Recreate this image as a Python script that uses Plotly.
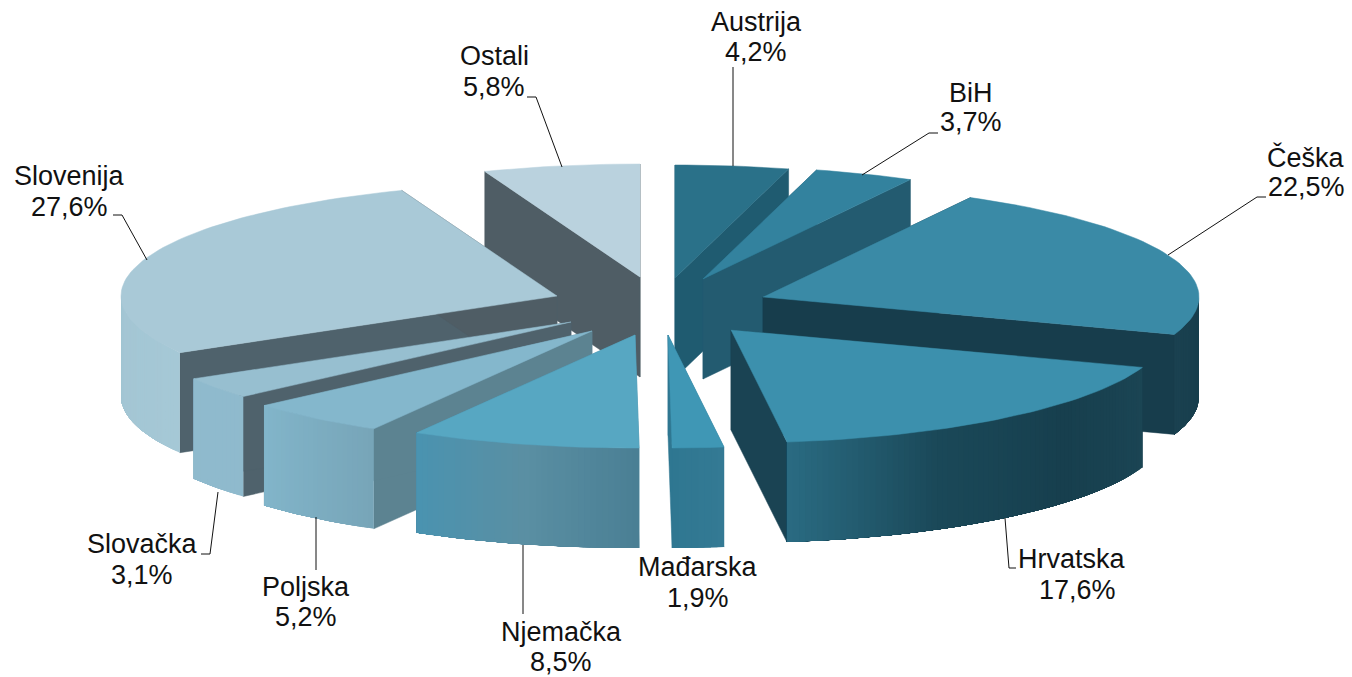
import math
import plotly.graph_objects as go

# ---- data ----
categories = ["Austrija", "BiH", "Češka", "Hrvatska", "Mađarska", "Njemačka",
              "Poljska", "Slovačka", "Slovenija", "Ostali"]
shares = [4.2, 3.7, 22.5, 17.6, 1.9, 8.5, 5.2, 3.1, 27.6, 5.8]

# ---- geometry / style (screen pixels) ----
RX, RY, DEPTH = 436, 113, 100
apex = {"Austrija": (675, 278), "BiH": (703, 279), "Češka": (763, 297), "Hrvatska": (731, 330),
        "Mađarska": (668, 335), "Njemačka": (635, 335), "Poljska": (592, 331),
        "Slovačka": (571, 322), "Slovenija": (557, 296), "Ostali": (640, 277)}
top_col = {"Austrija": "#2a7189", "BiH": "#33829e", "Češka": "#3a8aa6", "Hrvatska": "#3c90ad",
           "Mađarska": "#3f97b5", "Njemačka": "#57a7c2", "Poljska": "#84b7cc",
           "Slovačka": "#97bfd0", "Slovenija": "#a9c9d7", "Ostali": "#bad2de"}
cut_start_col = {"Austrija": "#1f5b70", "BiH": "#235b70", "Češka": "#173d4c", "Hrvatska": "#173d4c",
                 "Mađarska": "#2f7791", "Njemačka": "#4f8ba0", "Poljska": "#5c8391",
                 "Slovačka": "#4f626c", "Slovenija": "#4f626c", "Ostali": "#4f5d65"}
cut_end_col = {"Austrija": "#1f5b70", "BiH": "#235b70", "Češka": "#173d4c", "Hrvatska": "#1a4353",
               "Mađarska": "#2f7791", "Njemačka": "#4f8ba0", "Poljska": "#5c8391",
               "Slovačka": "#4f626c", "Slovenija": "#4f5d65", "Ostali": "#4f5d65"}
wall_stops = {"Češka": ["#173d4c", "#1a4150"], "Hrvatska": ["#1b4554", "#173f4e", "#1a4858", "#2a6b82"],
              "Mađarska": ["#347a94", "#2f7791"], "Njemačka": ["#4a7f94", "#5a8fa3", "#4a93b0"],
              "Poljska": ["#77a5b8", "#82b5ca"], "Slovačka": ["#8fbacd", "#8fbacd"],
              "Slovenija": ["#a5c8d6", "#a3c5d3"]}
draw_order = ["Ostali", "Austrija", "BiH", "Slovenija", "Češka", "Slovačka", "Poljska",
              "Hrvatska", "Njemačka", "Mađarska"]
label_pos = {"Austrija": (756, 22, 756, 52), "BiH": (971, 93, 971, 122), "Češka": (1306, 157, 1306, 187),
             "Hrvatska": (1072, 559, 1077, 590), "Mađarska": (698, 567, 698, 598),
             "Njemačka": (561, 632, 561, 662), "Poljska": (306, 587, 306, 617),
             "Slovačka": (142, 544, 142, 575), "Slovenija": (69, 176, 69, 207),
             "Ostali": (494, 56, 494, 87)}
leaders = [[(733, 67), (733, 166)], [(938, 133), (929, 133), (862, 175)],
           [(1266, 197), (1257, 197), (1168, 255)], [(1005, 518), (1009, 568), (1016, 568)],
           [(523, 545), (523, 614)], [(316, 517), (316, 570)],
           [(218, 492), (210, 554), (201, 554)], [(527, 97), (536, 97), (562, 167)],
           [(113, 215), (122, 215), (147, 260)]]


def rgb(h):
    return tuple(int(h[i:i + 2], 16) for i in (1, 3, 5))


def mix(stops, t):
    p = t * (len(stops) - 1)
    i = min(int(p), len(stops) - 2)
    a, b = rgb(stops[i]), rgb(stops[i + 1])
    f = p - i
    return "#%02x%02x%02x" % tuple(round(a[k] + (b[k] - a[k]) * f) for k in range(3))


fig = go.Figure()


def poly(pts, color, lw=0.5):
    fig.add_trace(go.Scatter(x=[p[0] for p in pts] + [pts[0][0]], y=[p[1] for p in pts] + [pts[0][1]],
                             mode="lines", fill="toself", fillcolor=color,
                             line=dict(color=color, width=lw), hoverinfo="skip", showlegend=False))


total = sum(shares)
spans, cum = {}, 0
for c, v in zip(categories, shares):
    spans[c] = (cum / total * 360, (cum + v) / total * 360)
    cum += v

for name in draw_order:
    a0, a1 = spans[name]
    ax, ay = apex[name]

    def P(deg, dz=0):
        r = math.radians(deg)
        return (ax + RX * math.sin(r), ay - RY * math.cos(r) + dz)

    # the cut faces: the hidden one is covered later by the wall and the top
    poly([(ax, ay), P(a0), P(a0, DEPTH), (ax, ay + DEPTH)], cut_start_col[name])
    poly([(ax, ay), P(a1), P(a1, DEPTH), (ax, ay + DEPTH)], cut_end_col[name])
    # the outer wall, only where it faces the viewer: each band runs on to the wall's
    # far end, so that the next band overpaints it and no seams show
    lo, hi = max(a0, 90), min(a1, 270)
    if hi > lo:
        n = max(8, int((hi - lo) / 0.8))
        for i in range(n):
            d0 = lo + (hi - lo) * i / n
            arc = [d0 + (hi - d0) * j / 30 for j in range(31)]
            poly([P(d) for d in arc] + [P(d, DEPTH) for d in reversed(arc)],
                 mix(wall_stops[name], (i + 0.5) / n), lw=0)
    # the top
    m = max(4, int((a1 - a0) / 1.5))
    poly([(ax, ay)] + [P(a0 + (a1 - a0) * i / m) for i in range(m + 1)], top_col[name])

for pts in leaders:
    fig.add_trace(go.Scatter(x=[p[0] for p in pts], y=[p[1] for p in pts], mode="lines",
                             line=dict(color="#111111", width=1), hoverinfo="skip", showlegend=False))

font = dict(family="Liberation Sans, Arial, sans-serif", size=27, color="#111111")
for c, v in zip(categories, shares):
    x1, y1, x2, y2 = label_pos[c]
    fig.add_annotation(x=x1, y=y1, text=c, showarrow=False, font=font, xanchor="center", yanchor="middle")
    fig.add_annotation(x=x2, y=y2, text=f"{v:.1f}".replace(".", ",") + "%", showarrow=False,
                       font=font, xanchor="center", yanchor="middle")

fig.update_layout(width=1352, height=677, margin=dict(l=0, r=0, t=0, b=0),
                  paper_bgcolor="white", plot_bgcolor="white", showlegend=False,
                  xaxis=dict(range=[0, 1352], visible=False, fixedrange=True),
                  yaxis=dict(range=[677, 0], visible=False, fixedrange=True))
fig.write_html("out.html", config={"displayModeBar": False},
               post_script="document.body.style.margin='0';document.documentElement.style.overflow='hidden';")
